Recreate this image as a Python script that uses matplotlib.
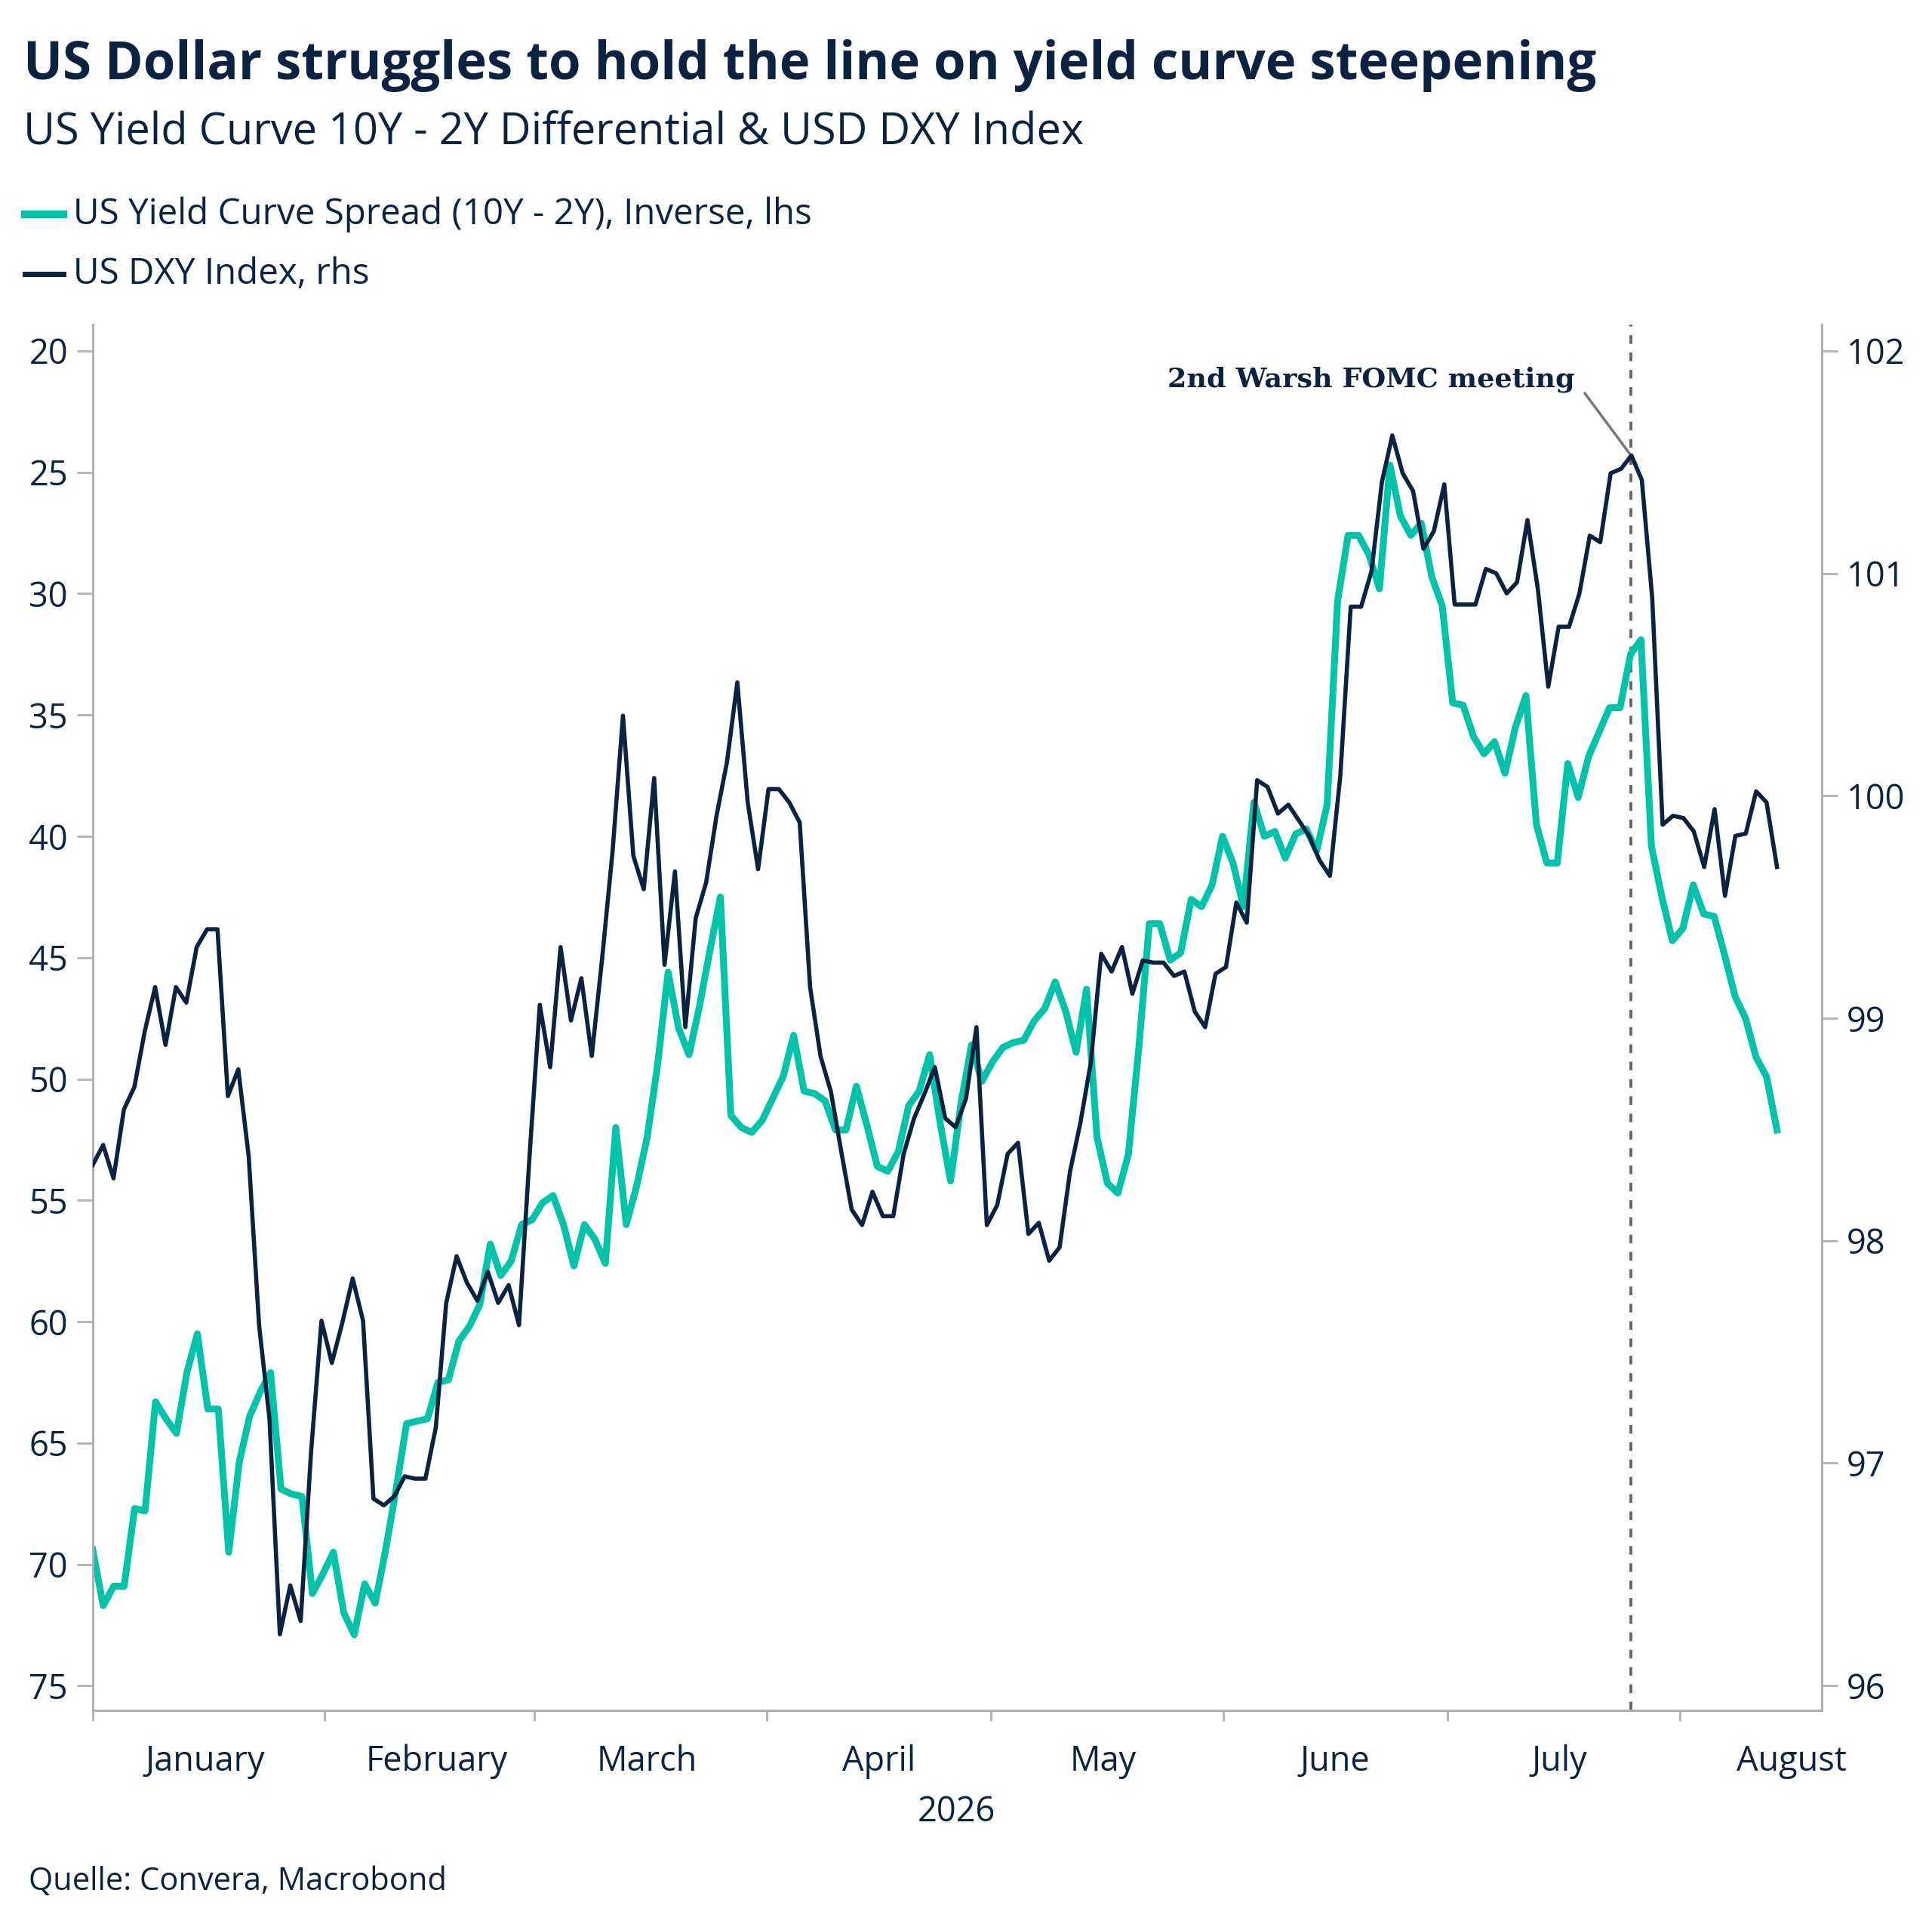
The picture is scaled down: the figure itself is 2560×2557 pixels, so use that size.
import matplotlib
matplotlib.use("Agg")
import matplotlib.pyplot as plt
import pandas as pd
import numpy as np

plt.rcParams['font.family'] = ['Open Sans', 'DejaVu Sans']

spread = [69.4,71.7,70.9,70.9,67.7,67.8,63.3,64.0,64.6,62.1,60.5,63.6,63.6,69.5,65.8,63.9,62.9,62.1,66.9,67.1,67.2,71.2,70.4,69.5,72.0,72.9,70.8,71.6,69.4,66.9,64.2,64.1,64.0,62.5,62.4,60.8,60.2,59.3,56.8,58.1,57.5,56.0,55.8,55.1,54.8,56.0,57.7,56.0,56.6,57.6,52.0,56.0,54.4,52.4,49.4,45.6,47.9,49.0,47.0,44.7,42.5,51.5,52.0,52.2,51.7,50.8,49.9,48.2,50.5,50.6,50.9,52.1,52.1,50.3,51.9,53.6,53.8,53.0,51.1,50.5,49.0,51.8,54.2,51.0,48.6,50.1,49.3,48.7,48.5,48.4,47.6,47.1,46.0,47.2,48.9,46.3,52.4,54.3,54.7,53.1,48.7,43.6,43.6,45.1,44.8,42.6,42.9,42.0,40.0,41.1,42.9,38.6,40.0,39.8,40.9,39.9,39.7,40.6,38.7,30.3,27.6,27.6,28.4,29.8,24.7,26.8,27.6,27.1,29.3,30.5,34.5,34.6,35.9,36.6,36.1,37.4,35.5,34.2,39.5,41.1,41.1,37.0,38.4,36.7,35.7,34.7,34.7,32.5,31.9,40.4,42.5,44.3,43.8,42.0,43.2,43.3,44.9,46.6,47.5,49.1,49.9,52.1]
dxy = [98.34,98.43,98.28,98.59,98.69,98.94,99.14,98.88,99.14,99.07,99.32,99.40,99.40,98.65,98.77,98.38,97.62,97.20,96.23,96.45,96.29,97.05,97.64,97.45,97.63,97.83,97.64,96.84,96.81,96.85,96.94,96.93,96.93,97.16,97.72,97.93,97.81,97.73,97.86,97.72,97.80,97.62,98.37,99.06,98.78,99.32,98.99,99.18,98.83,99.27,99.75,100.36,99.73,99.58,100.08,99.24,99.66,98.96,99.45,99.61,99.91,100.15,100.51,99.97,99.67,100.03,100.03,99.97,99.88,99.14,98.83,98.67,98.40,98.14,98.07,98.22,98.11,98.11,98.39,98.55,98.66,98.78,98.55,98.51,98.64,98.96,98.07,98.16,98.39,98.44,98.03,98.08,97.91,97.97,98.31,98.53,98.80,99.29,99.21,99.32,99.11,99.26,99.25,99.25,99.19,99.21,99.03,98.96,99.20,99.23,99.52,99.43,100.07,100.04,99.92,99.96,99.89,99.82,99.71,99.64,100.09,100.85,100.85,101.01,101.41,101.62,101.45,101.37,101.11,101.19,101.40,100.86,100.86,100.86,101.02,101.00,100.91,100.96,101.24,100.93,100.49,100.76,100.76,100.91,101.17,101.14,101.45,101.47,101.53,101.42,100.89,99.87,99.91,99.90,99.84,99.68,99.94,99.55,99.82,99.83,100.02,99.97,99.68]

start = pd.Timestamp('2026-01-01')
end = pd.Timestamp('2026-08-14')
dates = pd.date_range(start, end, periods=len(spread))
dates2 = pd.date_range(start, end, periods=len(dxy))
fomc = pd.Timestamp('2026-07-25 12:00')

green = '#00C4AA'
navy = '#0B2240'
grey = '#B0B0B0'

fig = plt.figure(figsize=(10.24, 10.228), dpi=250)
ax = fig.add_axes([0.048, 0.114, 0.895, 0.718])
ax2 = ax.twinx()

ax.plot(dates, spread, color=green, lw=2.6, zorder=3)
ax2.plot(dates2, dxy, color=navy, lw=1.6, zorder=4)

ax.set_ylim(76.0, 18.9)
ax.set_yticks([20, 25, 30, 35, 40, 45, 50, 55, 60, 65, 70, 75])
ax2.set_ylim(95.89, 102.12)
ax2.set_yticks([96, 97, 98, 99, 100, 101, 102])
ax.set_xlim(pd.Timestamp('2026-01-01'), pd.Timestamp('2026-08-20'))

months = pd.date_range('2026-01-01', '2026-08-01', freq='MS')
ax.set_xticks(months)
ax.set_xticklabels([])
ax.set_xticks([m + pd.Timedelta(days=15) for m in months], minor=True)
ax.set_xticklabels(['January', 'February', 'March', 'April', 'May', 'June', 'July', 'August'], minor=True)
ax.tick_params(axis='x', which='minor', length=0, pad=13, labelsize=13, labelcolor=navy)
ax.tick_params(axis='x', which='major', length=4, color=grey)
ax.tick_params(axis='y', labelsize=13, labelcolor=navy, length=6, color=grey)
ax2.tick_params(axis='y', labelsize=13, labelcolor=navy, length=6, color=grey)

for a in (ax, ax2):
    a.spines['top'].set_visible(False)
    for s in ('left', 'right', 'bottom'):
        a.spines[s].set_color(grey)

ax.axvline(fomc, color='#666666', lw=1.1, ls=(0, (3, 3)), zorder=1)
ax2.annotate('2nd Warsh FOMC meeting', xy=(fomc, 101.53), xytext=(pd.Timestamp('2026-07-18'), 101.87),
             ha='right', va='center', fontsize=10.5, fontweight='bold', color=navy,
             family=['DejaVu Serif'],
             arrowprops=dict(arrowstyle='-', color='#777777', lw=1.0, relpos=(1.0, 0.5), shrinkA=3, shrinkB=0))

fig.text(0.495, 0.061, '2026', ha='center', va='center', fontsize=13, color=navy)

fig.text(0.012, 0.966, 'US Dollar struggles to hold the line on yield curve steepening',
         fontsize=19.8, fontweight='bold', color=navy, va='center')
fig.text(0.012, 0.931, 'US Yield Curve 10Y - 2Y Differential & USD DXY Index',
         fontsize=16.6, color=navy, va='center')
fig.lines.append(plt.Line2D([0.013, 0.033], [0.889, 0.889], color=green, lw=3, transform=fig.transFigure))
fig.text(0.038, 0.889, 'US Yield Curve Spread (10Y - 2Y), Inverse, lhs', fontsize=13.7, color=navy, va='center')
fig.lines.append(plt.Line2D([0.013, 0.033], [0.858, 0.858], color=navy, lw=2, transform=fig.transFigure))
fig.text(0.038, 0.858, 'US DXY Index, rhs', fontsize=13.7, color=navy, va='center')
fig.text(0.015, 0.025, 'Quelle: Convera, Macrobond', fontsize=12, color=navy, va='center')

fig.savefig('out.png', dpi=250)
